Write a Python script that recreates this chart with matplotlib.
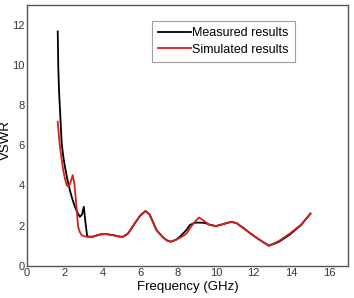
import matplotlib.pyplot as plt

# === DATA ===
sim_freq = [1.64, 1.70, 1.76, 1.85, 1.93, 2.02, 2.11, 2.20, 2.30, 2.43, 2.52, 2.60,
            2.66, 2.72, 2.80, 2.90, 3.05, 3.2, 3.5, 3.87, 4.2, 4.6, 4.92, 5.1, 5.35,
            5.71, 6.0, 6.28, 6.5, 6.86, 7.2, 7.4, 7.61, 7.9, 8.2, 8.44, 8.62, 8.85,
            9.11, 9.35, 9.67, 10.0, 10.4, 10.82, 11.1, 11.5, 11.8, 12.14, 12.5, 12.8,
            13.3, 13.9, 14.5, 15.0]
sim_vswr = [7.18, 6.5, 5.93, 5.3, 4.77, 4.35, 4.02, 3.94, 4.1, 4.52, 4.1, 3.27,
            2.6, 1.94, 1.7, 1.53, 1.47, 1.45, 1.45, 1.56, 1.58, 1.52, 1.45, 1.45, 1.6,
            2.11, 2.5, 2.73, 2.55, 1.78, 1.42, 1.27, 1.2, 1.3, 1.45, 1.6, 1.86, 2.15,
            2.41, 2.25, 2.03, 1.98, 2.08, 2.19, 2.12, 1.85, 1.63, 1.4, 1.18, 1.0,
            1.22, 1.6, 2.05, 2.6]

meas_freq = [1.64, 1.67, 1.71, 1.76, 1.85, 1.94, 2.02, 2.15, 2.28, 2.42, 2.55, 2.68,
             2.81, 2.92, 3.02, 3.1, 3.2,
             3.5, 3.87, 4.2, 4.6, 4.92, 5.1, 5.35, 5.71, 6.0, 6.28, 6.5, 6.86, 7.2,
             7.4, 7.61, 7.9, 8.1, 8.44, 8.62, 8.9, 9.15, 9.4, 9.67, 10.0, 10.4, 10.82,
             11.1, 11.5, 11.8, 12.14, 12.5, 12.8, 13.3, 13.9, 14.5, 15.0]
meas_vswr = [11.67, 9.9, 8.7, 7.76, 6.1, 5.4, 4.94, 4.3, 3.77, 3.3, 2.94, 2.65,
             2.44, 2.55, 2.94, 2.2, 1.45,
             1.45, 1.56, 1.58, 1.52, 1.45, 1.45, 1.6, 2.11, 2.5, 2.73, 2.55, 1.78, 1.42,
             1.27, 1.2, 1.3, 1.45, 1.78, 2.03, 2.15, 2.15, 2.14, 2.05, 1.98, 2.08, 2.19,
             2.12, 1.85, 1.63, 1.4, 1.18, 1.0, 1.18, 1.55, 2.03, 2.6]

x_ticks = [0, 2, 4, 6, 8, 10, 12, 14, 16]
y_ticks = [0, 2, 4, 6, 8, 10, 12]

# === PLOT ===
plt.rcParams['font.family'] = ['Liberation Sans', 'DejaVu Sans']
fig = plt.figure(figsize=(3.54, 2.98), dpi=100)
ax = fig.add_axes([0.0754, 0.108, 0.9086, 0.876])

ax.plot(meas_freq, meas_vswr, color='black', lw=1.3, label='Measured results')
ax.plot(sim_freq, sim_vswr, color='#d42020', lw=1.3, label='Simulated results')

ax.set_xlim(0, 17)
ax.set_ylim(0, 13)
ax.set_xticks(x_ticks)
ax.set_yticks(y_ticks)
ax.tick_params(length=0, labelsize=8, pad=1.5, colors='#333333')
for s in ax.spines.values():
    s.set_color('#555555')
    s.set_linewidth(1.0)

ax.set_xlabel('Frequency (GHz)', fontsize=9.5, labelpad=2)
ax.set_ylabel('VSWR', fontsize=9.5)
ax.yaxis.set_label_coords(-0.047, 0.48)

leg = ax.legend(loc='upper left', bbox_to_anchor=(0.389, 0.937), fontsize=9,
                frameon=True, fancybox=False, handlelength=2.6, handletextpad=0.15,
                borderpad=0.5, labelspacing=0.35, borderaxespad=0)
leg.get_frame().set_edgecolor('#888888')
leg.get_frame().set_linewidth(0.8)

fig.savefig('out.png', dpi=100)
